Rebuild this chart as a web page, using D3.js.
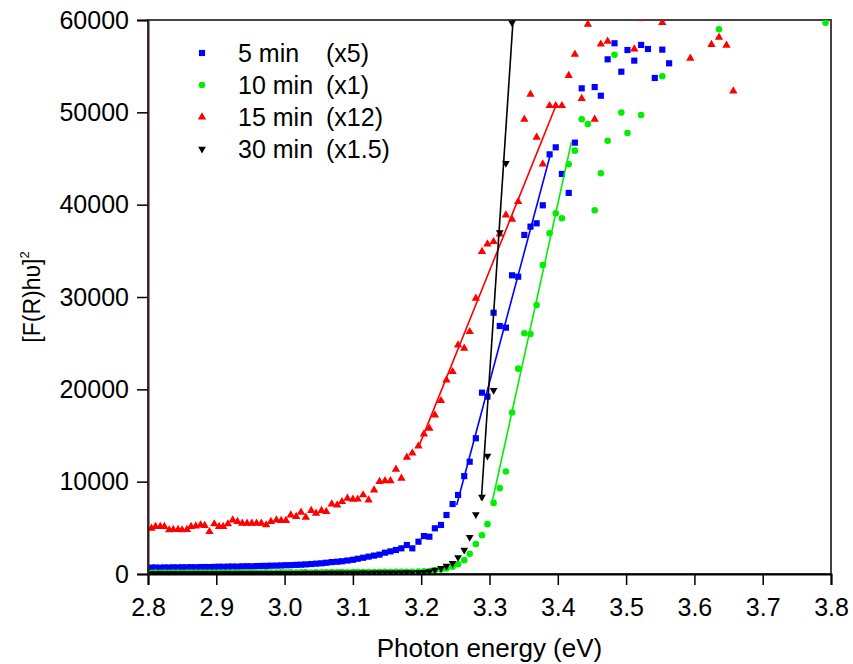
<!DOCTYPE html>
<html>
<head>
<meta charset="utf-8">
<script src="https://cdnjs.cloudflare.com/ajax/libs/d3/7.8.5/d3.min.js"></script>
<style>
  body { margin: 0; background: #fff; }
  text { font-family: Arial, "Liberation Sans", sans-serif; }
</style>
</head>
<body>
<svg id="chart" width="853" height="664"></svg>
<script>
// photon energy grid (eV), 1 nm steps from 442 nm to 327 nm
const energy = [
  2.805, 2.811, 2.818, 2.824, 2.831, 2.837, 2.844, 2.850, 2.857, 2.863,
  2.870, 2.877, 2.883, 2.890, 2.897, 2.904, 2.910, 2.917, 2.924, 2.931,
  2.938, 2.945, 2.952, 2.959, 2.966, 2.973, 2.980, 2.988, 2.995, 3.002,
  3.009, 3.017, 3.024, 3.031, 3.039, 3.046, 3.054, 3.061, 3.069, 3.077,
  3.084, 3.092, 3.100, 3.107, 3.115, 3.123, 3.131, 3.139, 3.147, 3.155,
  3.163, 3.171, 3.179, 3.187, 3.196, 3.204, 3.212, 3.220, 3.229, 3.237,
  3.246, 3.254, 3.263, 3.271, 3.280, 3.289, 3.297, 3.306, 3.315, 3.324,
  3.333, 3.342, 3.351, 3.360, 3.369, 3.378, 3.388, 3.397, 3.406, 3.416,
  3.425, 3.435, 3.444, 3.454, 3.463, 3.473, 3.483, 3.493, 3.502, 3.512,
  3.522, 3.532, 3.542, 3.553, 3.563, 3.573, 3.583, 3.594, 3.604, 3.615,
  3.625, 3.636, 3.647, 3.657, 3.668, 3.679, 3.690, 3.701, 3.712, 3.723,
  3.735, 3.746, 3.757, 3.769, 3.780, 3.792
];

// [F(R)hv]^2 values per sample (null = not shown)
const min5 = [
  690, 700, 680, 710, 700, 720, 710, 730, 720, 740,
  730, 750, 760, 750, 770, 790, 780, 800, 810, 800,
  830, 840, 830, 860, 870, 880, 900, 910, 930, 950,
  960, 990, 1010, 1040, 1080, 1120, 1160, 1220, 1290, 1330,
  1380, 1460, 1540, 1650, 1760, 1880, 1990, 2100, 2310, 2450,
  2600, 2780, 3140, 2780, 3500, 4110, 4040, 4950, 5310, 6390,
  7580, 8560, 10600, 12160, 14700, 19640, 19210, 28300, 26860, 26680,
  32350, 32200, 36720, 37620, 37980, 39930, 45450, 46210, 43330, 41270,
  46720, 52600, null, 52740, 51800, 55740, 57480, 54400, 56750, 55600,
  57300, 56860, 53720, 56790, 55310
];

const min10 = [
  140, 150, 130, 150, 140, 160, 150, 140, 150, 160,
  150, 160, 150, 160, 170, 150, 160, 170, 160, 150,
  170, 160, 170, 160, 170, 180, 170, 160, 180, 170,
  180, 170, 190, 180, 170, 190, 180, 190, 200, 190,
  200, 190, 210, 200, 210, 200, 220, 210, 230, 220,
  240, 230, 250, 240, 260, 280, 330, 400, 480, 600,
  780, 1050, 1500, 2200, 3250, 4200, 5400, 7700, 9300, 11100,
  17500, 22240, 26070, 26000, 29130, 33470, 36900, 39070, 38530, 44370,
  45850, 49250, 48740, 39400, 43400, 46930, 56230, 49970, 47760, null,
  49710, null, null, 53900, null, null, null, null, null, null,
  null, 58990, null, null, null, null, null, null, null, null,
  null, null, null, null, null, 59710
];

const min15 = [
  4950, 5130, 5130, 5130, 4770, 4800, 4800, 4770, 4800, 5130,
  5180, 5310, 5250, 4580, 5420, 5130, 5130, 5420, 5850, 5670,
  5490, 5490, 5490, 5490, 5490, 5310, 5670, 5850, 5780, 5780,
  6390, 6210, 6680, 6140, 6860, 6570, 6860, 6750, 7580, 7470,
  7830, 8200, 8080, 8100, 8560, 8010, 9100, 10000, 10100, 10100,
  11340, 10360, 12640, 13100, 13850, 15160, 15780, 17220, 18770, 21010,
  21910, 24800, 24440, 26240, 29860, 34910, 35740, 35990, 36800, 38880,
  38420, 40320, 49250, 51950, 47300, 44400, 50720, 50720, 50720, 53970,
  56290, 51500, 59540, 49250, 57380, 57680, null, null, null, 56860,
  60150, null, null, 59730, null, null, null, 55850, null, null,
  57330, 58130, 57260, 52310
];

const min30 = [
  60, 50, 70, 60, 50, 70, 60, 70, 60, 50,
  70, 60, 70, 60, 70, 60, 80, 70, 60, 70,
  80, 70, 80, 70, 80, 90, 80, 70, 90, 80,
  90, 80, 90, 100, 90, 100, 90, 100, 110, 100,
  110, 120, 110, 120, 130, 120, 130, 140, 130, 150,
  140, 150, 160, 150, 170, 180, 260, 430, 620, 870,
  1160, 1800, 2600, 3970, 6450, 8340, 12780, 19900, 37000, 44480,
  59700
];

// linear fits of the absorption edges [start, end]
const fit5 = [[3.252, 7470], [3.390, 45670]];
const fit10 = [[3.303, 7500], [3.420, 46800]];
const fit15 = [[3.197, 13900], [3.396, 50500]];
const fit30 = [[3.288, 8000], [3.3345, 60000]];

const names = ['5 min', '10 min', '15 min', '30 min'];
const factors = ['(x5)', '(x1)', '(x12)', '(x1.5)'];
const xTicks = [2.8, 2.9, 3.0, 3.1, 3.2, 3.3, 3.4, 3.5, 3.6, 3.7, 3.8];
const yTicks = [0, 10000, 20000, 30000, 40000, 50000, 60000];

const width = 853, height = 664;
const margin = { top: 20, right: 22, bottom: 90, left: 148 };

const svg = d3.select('#chart');

const x = d3.scaleLinear().domain([2.8, 3.8]).range([margin.left, width - margin.right]);
const y = d3.scaleLinear().domain([0, 60000]).range([height - margin.bottom, margin.top]);

const series = [
  { vals: min5, fit: fit5, color: '#0000ff', shape: d3.symbolSquare, size: 38, rot: 0 },
  { vals: min10, fit: fit10, color: '#00ee00', shape: d3.symbolCircle, size: 34, rot: 0 },
  { vals: min15, fit: fit15, color: '#ff0000', shape: d3.symbolTriangle, size: 30, rot: 0 },
  { vals: min30, fit: fit30, color: '#000000', shape: d3.symbolTriangle, size: 26, rot: 180 }
];

// clip to plot area
svg.append('defs').append('clipPath').attr('id', 'plotclip')
  .append('rect')
  .attr('x', margin.left).attr('y', margin.top)
  .attr('width', width - margin.left - margin.right)
  .attr('height', height - margin.top - margin.bottom);

// frame (top and right)
svg.append('rect')
  .attr('x', margin.left).attr('y', margin.top)
  .attr('width', width - margin.left - margin.right)
  .attr('height', height - margin.top - margin.bottom)
  .attr('fill', 'none').attr('stroke', '#444').attr('stroke-width', 2);

const plot = svg.append('g').attr('clip-path', 'url(#plotclip)');

series.forEach(s => {
  const pts = energy.map((e, i) => [e, s.vals[i]]).filter(d => d[1] != null);
  plot.append('g').selectAll('path')
    .data(pts)
    .enter().append('path')
    .attr('d', d3.symbol().type(s.shape).size(s.size))
    .attr('transform', d => `translate(${x(d[0])},${y(d[1])}) rotate(${s.rot})`)
    .attr('fill', s.color);
  plot.append('path')
    .datum(s.fit)
    .attr('d', d3.line().x(d => x(d[0])).y(d => y(d[1])))
    .attr('stroke', s.color)
    .attr('stroke-width', 1.6)
    .attr('fill', 'none');
});

// x axis
const xAxis = svg.append('g').attr('transform', `translate(0,${y(0)})`);
xAxis.call(d3.axisBottom(x).tickValues(d3.range(2.8, 3.8001, 0.02)).tickSize(6).tickFormat(''));
xAxis.call(d3.axisBottom(x).tickValues(xTicks).tickSize(11).tickFormat(d3.format('.1f')));
xAxis.selectAll('.domain').attr('stroke', '#000').attr('stroke-width', 2);
xAxis.selectAll('line').attr('stroke', '#000').attr('stroke-width', 1.5);
xAxis.selectAll('text').attr('font-size', 25).attr('fill', '#000').attr('dy', '1.1em')
  .attr('font-family', 'Arial, "Liberation Sans", sans-serif');

// y axis
const yAxis = svg.append('g').attr('transform', `translate(${x(2.8)},0)`);
yAxis.call(d3.axisLeft(y).tickValues(d3.range(0, 60001, 5000)).tickSize(6).tickFormat(''));
yAxis.call(d3.axisLeft(y).tickValues(yTicks).tickSize(11).tickFormat(d3.format('d')));
yAxis.selectAll('.domain').attr('stroke', '#3a1c1c').attr('stroke-width', 2);
yAxis.selectAll('line').attr('stroke', '#000').attr('stroke-width', 1.5);
yAxis.selectAll('text').attr('font-size', 25).attr('fill', '#000').attr('x', -19)
  .attr('font-family', 'Arial, "Liberation Sans", sans-serif');

// axis titles
svg.append('text')
  .attr('x', (x(2.8) + x(3.8)) / 2).attr('y', 657)
  .attr('text-anchor', 'middle').attr('font-size', 26)
  .text('Photon energy (eV)');

const yl = svg.append('text')
  .attr('transform', `translate(40,${(y(0) + y(60000)) / 2}) rotate(-90)`)
  .attr('text-anchor', 'middle').attr('font-size', 23);
yl.append('tspan').text('[F(R)h\u03C5]');
yl.append('tspan').attr('font-size', 13).attr('dy', -11).text('2');

// legend
const legend = svg.append('g');
const rowY = [53, 85, 117, 149];
series.forEach((s, i) => {
  legend.append('path')
    .attr('d', d3.symbol().type(s.shape).size(s.size))
    .attr('transform', `translate(202,${rowY[i]}) rotate(${s.rot})`)
    .attr('fill', s.color);
  legend.append('text').attr('x', 238).attr('y', rowY[i] + 9)
    .attr('font-size', 25).text(names[i]);
  legend.append('text').attr('x', 326).attr('y', rowY[i] + 9)
    .attr('font-size', 25).text(factors[i]);
});
</script>
</body>
</html>
